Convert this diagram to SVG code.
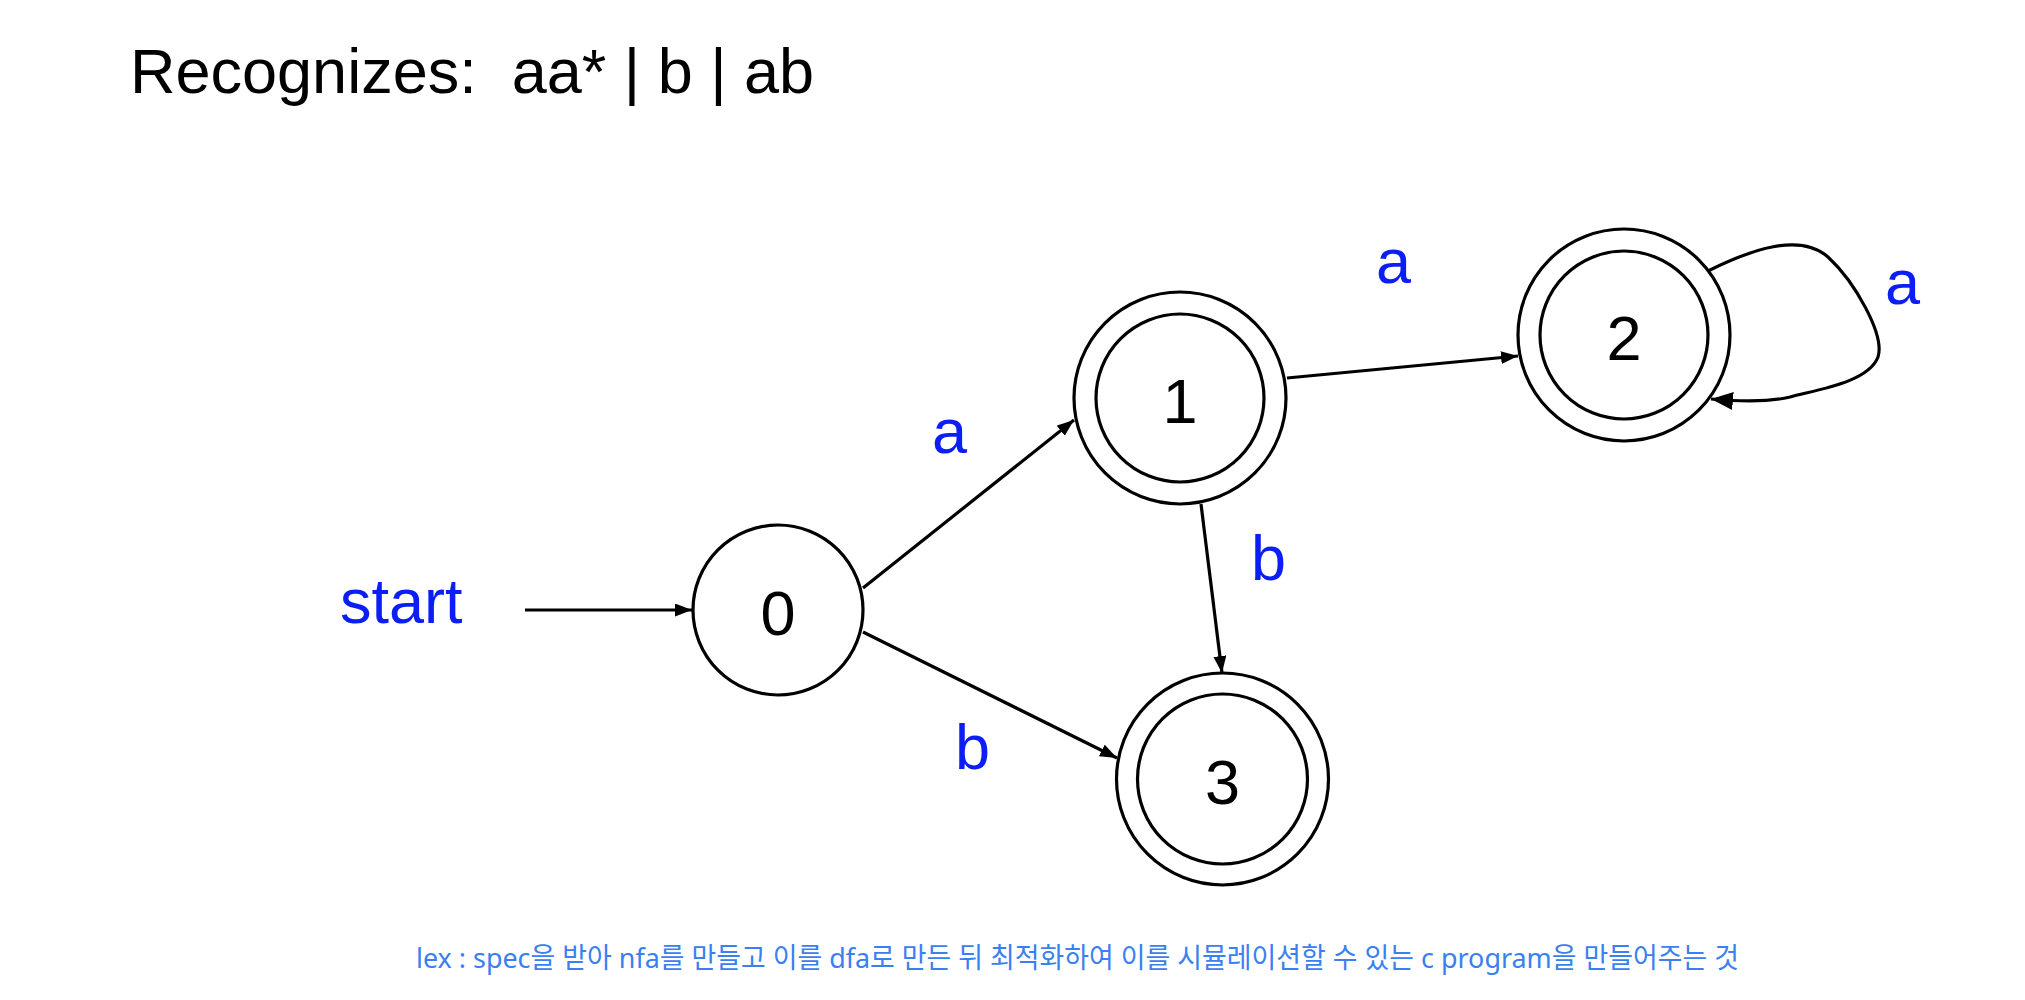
<svg xmlns="http://www.w3.org/2000/svg" width="2025" height="1000" viewBox="0 0 2025 1000">
<defs>
<style>
.bg{fill:#ffffff}
.st{fill:#ffffff;stroke:#000;stroke-width:3.2}
.sn{fill:none;stroke:#000;stroke-width:3.2}
.num{font-family:"Liberation Sans",Arial,sans-serif;font-size:63px;fill:#000;text-anchor:middle}
.lbl{font-family:"Liberation Sans",Arial,sans-serif;font-size:63px;fill:#0a1ef5}
.edge{fill:none;stroke:#000;stroke-width:3.2}
.title{font-family:"Liberation Sans",Arial,sans-serif;font-size:63px;fill:#000}
.note{font-family:"Noto Sans","Noto Sans CJK KR",sans-serif;font-size:28px;fill:#3a80f0}
</style>
<marker id="arr" markerUnits="userSpaceOnUse" markerWidth="20" markerHeight="14" refX="17" refY="6.5" orient="auto">
<path d="M0,0 L17,6.5 L0,13 z" fill="#000"/>
</marker>
<marker id="arrBig" markerUnits="userSpaceOnUse" markerWidth="24" markerHeight="20" refX="22" refY="9" orient="auto">
<path d="M0,0 L22,9 L0,18 z" fill="#000"/>
</marker>
</defs>
<rect class="bg" x="0" y="0" width="2025" height="1000"/>
<text class="title" x="130" y="93" xml:space="preserve">Recognizes:  aa* | b | ab</text>

<g id="connectors">
<path class="edge" d="M525,610 L692,610" marker-end="url(#arr)"/>
<path class="edge" d="M863,588 L1074,420" marker-end="url(#arr)"/>
<path class="edge" d="M863,632 L1117,758" marker-end="url(#arr)"/>
<path class="edge" d="M1201,504 L1222,673" marker-end="url(#arr)"/>
<path class="edge" d="M1287,378 L1518,356" marker-end="url(#arr)"/>
<path class="edge" d="M1708,271 C1750,250 1800,232 1828,257 C1855,282 1885,335 1878,357 C1868,383 1815,390 1790,397 C1770,402 1745,402 1711,399" marker-end="url(#arrBig)"/>
<text class="lbl" x="932" y="453">a</text>
<text class="lbl" x="955" y="769">b</text>
<text class="lbl" x="1251" y="580">b</text>
<text class="lbl" x="1376" y="283">a</text>
<text class="lbl" x="1885" y="304">a</text>
<text class="lbl" x="340" y="623">start</text>
</g>

<g id="node0">
<circle class="st" cx="778" cy="610" r="85"/>
<text class="num" x="778" y="635">0</text>
</g>
<g id="node1">
<circle class="st" cx="1180" cy="398" r="106"/>
<circle class="sn" cx="1180" cy="398" r="84"/>
<text class="num" x="1180" y="423">1</text>
</g>
<g id="node2">
<circle class="st" cx="1624" cy="335" r="106"/>
<circle class="sn" cx="1624" cy="335" r="84"/>
<text class="num" x="1624" y="360">2</text>
</g>
<g id="node3">
<circle class="st" cx="1222.5" cy="779" r="106"/>
<circle class="sn" cx="1222.5" cy="779" r="85"/>
<text class="num" x="1222.5" y="804">3</text>
</g>

<text class="note" x="416" y="968" textLength="1323" lengthAdjust="spacingAndGlyphs">lex : spec을 받아 nfa를 만들고 이를 dfa로 만든 뒤 최적화하여 이를 시뮬레이션할 수 있는 c program을 만들어주는 것</text>
</svg>
